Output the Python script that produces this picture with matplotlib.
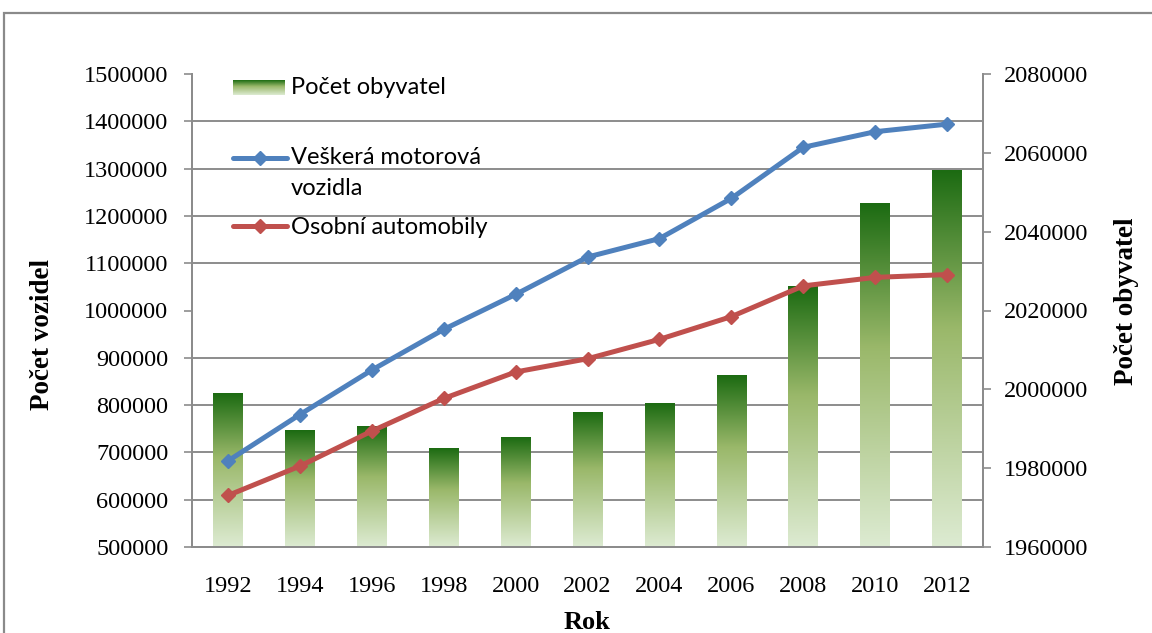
import numpy as np
import matplotlib
matplotlib.use("Agg")
import matplotlib.pyplot as plt
from matplotlib.colors import LinearSegmentedColormap
from matplotlib.lines import Line2D
from matplotlib.patches import Rectangle

# ---------------- data ----------------
years = ["1992", "1994", "1996", "1998", "2000", "2002", "2004", "2006", "2008", "2010", "2012"]
vsechna_vozidla = [682000, 780000, 874000, 960000, 1034000, 1113000, 1152000, 1237000, 1345000, 1378000, 1394000]
osobni_auta = [609000, 671000, 745000, 814000, 870000, 898000, 939000, 987000, 1052000, 1070000, 1076000]
obyvatel = [1998900, 1989500, 1990500, 1985000, 1987900, 1994000, 1996300, 2003400, 2026000, 2047200, 2055600]

left_ticks = list(range(500000, 1500001, 100000))
right_ticks = list(range(1960000, 2080001, 20000))

label_pop = "Počet obyvatel"
label_all = "Veškerá motorová\nvozidla"
label_cars = "Osobní automobily"

BLUE = "#4F81BD"
RED = "#C0504D"
GRID = "#8C8C8C"
SERIF = "Liberation Serif"
SANS = "Lato"
TICK_FS = 17.5

W, H = 1152, 633
fig = plt.figure(figsize=(W / 100, H / 100), dpi=100)
fig.patch.set_facecolor("white")

# outer frame (chart area border)
fig.add_artist(Rectangle((4 / W, -0.05), 1.2, (1 - 13 / H) + 0.05, transform=fig.transFigure,
                         fill=False, edgecolor="#8A8A8A", linewidth=1.6))

L, R, T, B = 192, 983, 74, 547
ax = fig.add_axes([L / W, 1 - B / H, (R - L) / W, (B - T) / H])
ax2 = ax.twinx()
ax.set_zorder(2)
ax2.set_zorder(1)
ax.patch.set_visible(False)

x = np.arange(len(years))
ymin2, ymax2 = right_ticks[0], right_ticks[-1]

# gradient bars on the right axis
cmap = LinearSegmentedColormap.from_list(
    "g", [(0.0, "#1C6B12"), (0.42, "#9AB86A"), (1.0, "#DDEBD2")])
grad = np.linspace(0, 1, 256).reshape(-1, 1)
bw = 0.41
for xi, v in zip(x, obyvatel):
    ax2.imshow(grad, cmap=cmap, aspect="auto", origin="upper",
               extent=[xi - bw / 2, xi + bw / 2, ymin2, v], zorder=2, interpolation="bilinear")

# gridlines on ax2 aligned with left ticks
ax2.set_ylim(ymin2, ymax2)
ax2.set_xlim(-0.5, len(years) - 0.5)
ax2.set_yticks(right_ticks)
ax2.set_yticks(np.linspace(ymin2, ymax2, len(left_ticks)), minor=True)
ax2.yaxis.grid(True, which="minor", color=GRID, linewidth=1.4, zorder=0)
ax2.tick_params(axis="y", which="minor", length=0)
ax2.set_axisbelow(True)

# lines on left axis
ax.plot(x, vsechna_vozidla, color=BLUE, linewidth=3.6, marker="D", markersize=7,
        solid_capstyle="round", zorder=5)
ax.plot(x, osobni_auta, color=RED, linewidth=3.6, marker="D", markersize=7,
        solid_capstyle="round", zorder=5)
ax.set_ylim(left_ticks[0], left_ticks[-1])
ax.set_xlim(-0.5, len(years) - 0.5)
ax.set_yticks(left_ticks)
ax.set_yticklabels([str(v) for v in left_ticks])
ax.set_xticks(x)
ax.set_xticklabels(years)
ax2.set_yticklabels([str(v) for v in right_ticks])

for a in (ax, ax2):
    for s in a.spines.values():
        s.set_color(GRID)
        s.set_linewidth(1.4)
    a.spines["top"].set_visible(False)

ax.tick_params(axis="y", length=6, width=1.2, color=GRID, pad=11, labelsize=TICK_FS)
ax.tick_params(axis="x", length=0, pad=21, labelsize=TICK_FS)
ax2.tick_params(axis="y", which="major", length=6, width=1.2, color=GRID, pad=9, labelsize=TICK_FS)
for lab in ax.get_yticklabels() + ax.get_xticklabels() + ax2.get_yticklabels():
    lab.set_fontfamily(SERIF)

ax.set_ylabel("Počet vozidel", fontfamily=SERIF, fontweight="bold", fontsize=19.5)
ax.yaxis.set_label_coords(-0.173, 0.45)
ax2.set_ylabel("Počet obyvatel", fontfamily=SERIF, fontweight="bold", fontsize=19.5, rotation=90)
ax2.yaxis.set_label_coords(1.166, 0.52)
ax.set_xlabel("Rok", fontfamily=SERIF, fontweight="bold", fontsize=19)
ax.xaxis.set_label_coords(0.5, -0.135)

# manual legend (inside plot area, no frame)
def fx(px):
    return (px - L) / (R - L)

def fy(py):
    return (B - py) / (B - T)

lg = fig.add_axes([233 / W, 1 - 95 / H, 52 / W, 15 / H])
lg.imshow(grad, cmap=cmap, aspect="auto", origin="upper", extent=[0, 1, 0, 1])
lg.set_axis_off()

for color, yy in ((BLUE, 157.5), (RED, 226)):
    ax.add_line(Line2D([fx(233), fx(287)], [fy(yy), fy(yy)], transform=ax.transAxes,
                       color=color, linewidth=3.6, solid_capstyle="round", zorder=6))
    ax.add_line(Line2D([fx(260)], [fy(yy)], transform=ax.transAxes, color=color,
                       marker="D", markersize=7, zorder=7))

ax.text(fx(291), fy(87), label_pop, transform=ax.transAxes, fontfamily=SANS,
        fontsize=17, va="center", ha="left")
ax.text(fx(291), fy(173), label_all, transform=ax.transAxes, fontfamily=SANS,
        fontsize=17, va="center", ha="left", linespacing=1.55)
ax.text(fx(291), fy(227), label_cars, transform=ax.transAxes, fontfamily=SANS,
        fontsize=17, va="center", ha="left")

fig.savefig("out.png", dpi=100)
